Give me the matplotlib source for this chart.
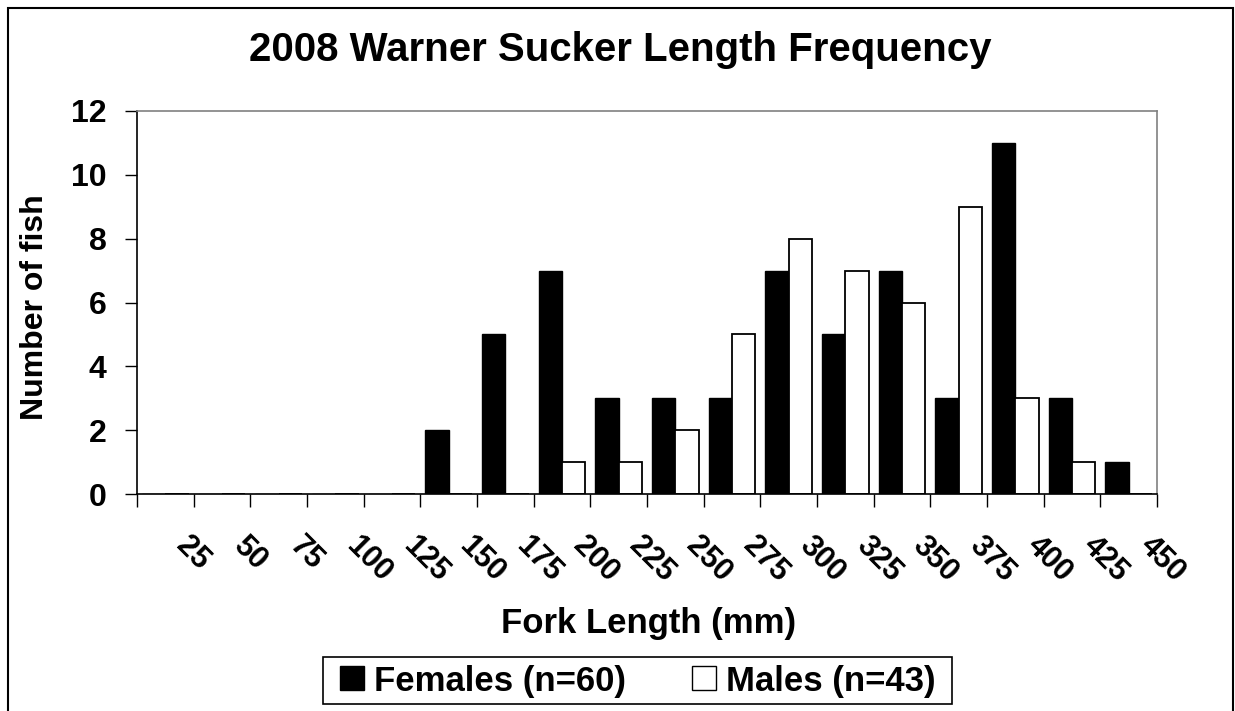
import matplotlib
matplotlib.use("Agg")
import matplotlib.pyplot as plt
import numpy as np
from matplotlib.patches import Rectangle, Patch
from matplotlib.transforms import ScaledTranslation, blended_transform_factory

plt.rcParams['font.family'] = ['Liberation Sans', 'DejaVu Sans']
plt.rcParams['font.weight'] = 'bold'

# Data
length_bins = ["25", "50", "75", "100", "125", "150", "175", "200", "225", "250",
               "275", "300", "325", "350", "375", "400", "425", "450"]
females = [0, 0, 0, 0, 0, 2, 5, 7, 3, 3, 3, 7, 5, 7, 3, 11, 3, 1]
males = [0, 0, 0, 0, 0, 0, 0, 1, 1, 2, 5, 8, 7, 6, 9, 3, 1, 0]
series_names = ["Females (n=60)", "Males (n=43)"]
y_ticks = [0, 2, 4, 6, 8, 10, 12]

W, H = 1235, 711
fig = plt.figure(figsize=(W / 100, H / 100), dpi=100)
fig.patch.set_facecolor('white')

# outer chart border
fig.patches.append(Rectangle((8 / W, -5 / H), 1225 / W, 708 / H, transform=fig.transFigure,
                             fill=False, edgecolor='black', linewidth=1.5))

ax = fig.add_axes([137 / W, (H - 494) / H, 1020 / W, 383 / H])

n = len(length_bins)
centers = np.arange(n) + 0.5
bw = 0.41
ax.bar(centers - bw / 2, females, width=bw, color='black', edgecolor='black', linewidth=1.0)
ax.bar(centers + bw / 2, males, width=bw, color='white', edgecolor='black', linewidth=1.3)

ax.set_xlim(0, n)
ax.set_ylim(0, 12)
ax.set_yticks(y_ticks)
ax.set_yticklabels([str(v) for v in y_ticks], fontsize=23, fontweight='bold')
ax.set_xticks(np.arange(n + 1))
ax.set_xticklabels([])
ax.tick_params(axis='both', direction='out', length=9, width=1, color='black')
ax.tick_params(axis='y', pad=13)

for s in ['top', 'right']:
    ax.spines[s].set_color('#808080')
    ax.spines[s].set_linewidth(1.2)
for s in ['left', 'bottom']:
    ax.spines[s].set_color('black')
    ax.spines[s].set_linewidth(1.2)

# rotated category labels
trans = blended_transform_factory(ax.transData, ax.transAxes) + \
    ScaledTranslation(26 / 100, -37 / 100, fig.dpi_scale_trans)
for c, lab in zip(centers, length_bins):
    ax.text(c, 0, lab, transform=trans, rotation=-45, rotation_mode='anchor',
            ha='left', va='top', fontsize=22, fontweight='bold')

fig.text(620 / W, 1 - 50 / H, "2008 Warner Sucker Length Frequency", ha='center', va='center',
         fontsize=29, fontweight='bold')
fig.text(35 / W, 1 - 307 / H, "Number of fish", ha='center', va='center', rotation=90,
         fontsize=23, fontweight='bold')
fig.text(649 / W, 1 - 623 / H, "Fork Length (mm)", ha='center', va='center',
         fontsize=25, fontweight='bold')

# legend (frame drawn separately to match the original's tight vertical padding)
handles = [Patch(facecolor='black', edgecolor='black', linewidth=1.0),
           Patch(facecolor='white', edgecolor='black', linewidth=1.0)]
leg = fig.legend(handles, series_names, loc='center', bbox_to_anchor=(638 / W, 1 - 681 / H),
                 ncol=2, fontsize=25, frameon=False,
                 handlelength=0.68, handleheight=0.68, handletextpad=0.3, columnspacing=1.9,
                 borderpad=0.0)
for t in leg.get_texts():
    t.set_fontweight('bold')
fig.patches.append(Rectangle((323 / W, (H - 704) / H), 629 / W, 47 / H, transform=fig.transFigure,
                             fill=False, edgecolor='black', linewidth=1.2))

fig.savefig("out.png", dpi=100)
